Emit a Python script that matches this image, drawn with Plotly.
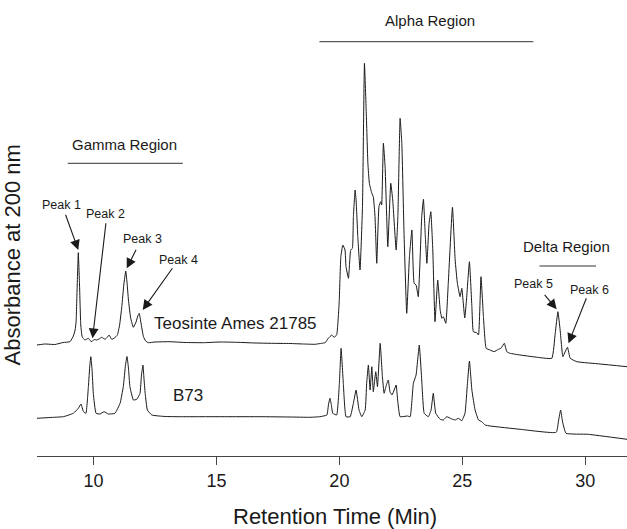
import plotly.graph_objects as go

# Retention time (min) and absorbance (arbitrary units)
teosinte_time = [7.70, 8.03, 8.43, 8.76, 9.04, 9.18, 9.25, 9.29, 9.33, 9.38, 9.43, 9.48, 9.54, 9.65, 9.79, 9.86, 9.93,
                 10.02, 10.13, 10.22, 10.33, 10.47, 10.55, 10.63, 10.74, 10.85, 10.97, 11.06, 11.15, 11.23, 11.31, 11.36,
                 11.42, 11.51, 11.62, 11.73, 11.80, 11.86, 11.93, 12.03, 12.12, 12.23, 12.50, 13.11, 13.72, 14.47, 15.15,
                 15.83, 16.57, 17.18, 17.99, 18.54, 19.01, 19.28, 19.42, 19.55, 19.69, 19.78, 19.89, 19.99, 20.06, 20.14,
                 20.23, 20.27, 20.37, 20.46, 20.53, 20.57, 20.64, 20.68, 20.75, 20.84, 20.94, 21.02, 21.09, 21.16, 21.22,
                 21.32, 21.38, 21.45, 21.52, 21.61, 21.68, 21.72, 21.79, 21.86, 21.97, 22.09, 22.17, 22.31, 22.38, 22.47,
                 22.54, 22.63, 22.74, 22.85, 22.95, 23.04, 23.12, 23.21, 23.35, 23.42, 23.49, 23.56, 23.65, 23.72, 23.80,
                 23.89, 24.00, 24.10, 24.17, 24.23, 24.33, 24.43, 24.60, 24.71, 24.80, 24.91, 24.98, 25.10, 25.17, 25.29,
                 25.39, 25.45, 25.59, 25.66, 25.76, 25.86, 25.97, 26.13, 26.29, 26.47, 26.57, 26.71, 26.81, 26.94, 27.35,
                 27.96, 28.64, 28.78, 28.89, 28.98, 29.09, 29.18, 29.28, 29.39, 29.66, 30.61, 31.70]
teosinte_abs = [111, 112, 111.5, 113.5, 114.3, 120, 126, 134, 166, 203.3, 171, 131, 119, 116, 117.7, 115.5, 114.3,
                116.5, 116, 117, 118.7, 116.7, 118.5, 121, 116.7, 118, 121, 131, 149.3, 171, 185, 174,
                156, 138, 128.7, 134, 140, 142.7, 133, 119.3, 115, 113.3, 114, 114.3, 113.5, 113.3, 114,
                113.7, 113, 112.7, 112.5, 112, 111.7, 112.7, 113.3, 117.7, 121, 118.7, 121, 153, 199.3, 211,
                206, 189.3, 177.7, 206, 207.7, 239.3, 266, 256, 219.3, 186, 249.3, 392.7, 346, 292.7, 272.7,
                262.7, 259.3, 239.3, 192.7, 249.3, 254.3, 251, 312.7, 289.3, 209.3, 272.7, 256, 206, 239.3, 337.7,
                312.7, 222.7, 142.7, 199.3, 226, 172.7, 171, 159.3, 239.3, 256.7, 222.7, 192.7, 232.7, 244.3, 206,
                134.3, 176, 146, 137.7, 139.3, 132.7, 172.7, 248.7, 196, 172.7, 159.3, 167.7, 138, 156, 194.3,
                149.3, 124.3, 123.3, 121, 179.3, 139.3, 107.7, 106, 104.3, 106.7, 107.7, 112.7, 104.3, 102.7, 101,
                99, 97.7, 122.7, 144.3, 126, 99.3, 104, 108.7, 97.7, 94.3, 92, 89.3]

b73_time = [7.70, 8.23, 8.77, 9.18, 9.38, 9.49, 9.59, 9.69, 9.79, 9.85, 9.89, 9.94, 9.99, 10.10, 10.26, 10.43, 10.60,
            10.87, 11.08, 11.21, 11.30, 11.36, 11.42, 11.48, 11.62, 11.76, 11.89, 11.95, 12.01, 12.05, 12.10, 12.19,
            12.37, 12.91, 13.52, 14.33, 15.55, 16.77, 17.99, 18.81, 19.21, 19.49, 19.56, 19.62, 19.68, 19.73, 19.89,
            20.00, 20.07, 20.16, 20.27, 20.44, 20.57, 20.68, 20.80, 20.91, 21.05, 21.11, 21.18, 21.25, 21.32, 21.38,
            21.48, 21.55, 21.66, 21.75, 21.82, 21.90, 21.99, 22.06, 22.14, 22.23, 22.31, 22.37, 22.47, 22.77, 22.88,
            23.01, 23.12, 23.25, 23.35, 23.45, 23.62, 23.73, 23.82, 23.92, 24.10, 24.23, 24.37, 24.57, 24.71, 24.84,
            24.98, 25.11, 25.21, 25.29, 25.39, 25.52, 25.66, 25.79, 25.93, 26.13, 27.35, 28.82, 28.92, 29.00, 29.08,
            29.22, 30.12, 31.70]
b73_abs = [37.7, 38.5, 39.3, 42.7, 47.7, 52, 44.3, 42.7, 69.3, 91, 99.3, 86, 62.7, 42.7, 42, 44.3, 42,
           42.7, 52.7, 69.3, 91, 99.5, 88, 69.3, 56, 56.7, 62.7, 81, 91, 78, 62.7, 46,
           41, 39.5, 39.3, 39.3, 39.3, 39.3, 39, 38.7, 39.3, 41, 52, 57.7, 50, 42.7, 41,
           72.7, 107.7, 72.7, 39.3, 39.3, 52.7, 66, 46, 39.3, 46, 72.7, 91, 66, 89.3, 64.3,
           84.3, 69.3, 112.7, 79.3, 62.7, 70, 76, 64, 61, 66, 71, 56, 39.3, 40, 39.3,
           72.7, 81, 111, 76, 42.7, 39.3, 46, 62.7, 42.7, 36.7, 36, 39.3, 37, 36, 37.7,
           35.3, 42.7, 72.7, 95, 66, 46, 36, 34.3, 31, 30, 26.7, 23.7, 36, 46, 34,
           22.7, 21.7, 16.7]

x_ticks = [10, 15, 20, 25, 30]

region_names = ["Gamma Region", "Alpha Region", "Delta Region"]
region_start = [8.95, 19.19, 28.14]
region_end = [13.63, 27.89, 30.44]
region_line_level = [292.7, 414.3, 190]
region_label_x = [11.25, 23.69, 29.25]
region_label_y = [312, 435.3, 209.3]

peak_labels = ["Peak 1", "Peak 2", "Peak 3", "Peak 4", "Peak 5", "Peak 6"]
peak_label_x = [8.71, 10.47, 12.00, 13.45, 27.89, 30.16]
peak_label_y = [251, 242, 216.7, 196, 171.7, 166]
arrow_tail_x = [8.84, 10.51, 11.76, 13.25, 28.30, 30.07]
arrow_tail_y = [242.7, 234.3, 207.7, 189.3, 162.7, 159.3]
arrow_head_x = [9.38, 9.96, 11.35, 12.00, 28.84, 29.32]
arrow_head_y = [206, 117.7, 187.7, 146, 146.7, 112.7]

sample_names = ["Teosinte Ames 21785", "B73"]
sample_label_x = [12.37, 13.15]
sample_label_y = [132.7, 61]

FONT = "Liberation Sans, Arial, Helvetica, sans-serif"
INK = "#1a1a1a"

fig = go.Figure()
fig.add_trace(go.Scatter(x=teosinte_time, y=teosinte_abs, mode="lines",
                         line=dict(color=INK, width=1, shape="spline", smoothing=0.35),
                         name=sample_names[0], hoverinfo="skip"))
fig.add_trace(go.Scatter(x=b73_time, y=b73_abs, mode="lines",
                         line=dict(color=INK, width=1, shape="spline", smoothing=0.35),
                         name=sample_names[1], hoverinfo="skip"))

shapes = []
annotations = []
for name, x0, x1, yl, lx, ly in zip(region_names, region_start, region_end, region_line_level,
                                    region_label_x, region_label_y):
    shapes.append(dict(type="line", xref="x", yref="y", x0=x0, x1=x1, y0=yl, y1=yl,
                       line=dict(color="#333333", width=1)))
    annotations.append(dict(x=lx, y=ly, xref="x", yref="y", text=name, showarrow=False,
                            font=dict(size=15, color=INK, family=FONT)))

for lab, lx, ly, tx, ty, hx, hy in zip(peak_labels, peak_label_x, peak_label_y, arrow_tail_x,
                                       arrow_tail_y, arrow_head_x, arrow_head_y):
    annotations.append(dict(x=lx, y=ly, xref="x", yref="y", text=lab, showarrow=False,
                            font=dict(size=12.5, color=INK, family=FONT)))
    annotations.append(dict(x=hx, y=hy, xref="x", yref="y", ax=tx, ay=ty, axref="x", ayref="y",
                            text="", showarrow=True, arrowhead=2, arrowsize=1.8, arrowwidth=1.1,
                            arrowcolor=INK, standoff=0, startstandoff=0))

for name, sx, sy in zip(sample_names, sample_label_x, sample_label_y):
    annotations.append(dict(x=sx, y=sy, xref="x", yref="y", text=name, showarrow=False,
                            xanchor="left", font=dict(size=17, color=INK, family=FONT)))

annotations.append(dict(x=0.505, y=-0.133, xref="paper", yref="paper", text="Retention Time (Min)",
                        showarrow=False, yanchor="middle", font=dict(size=22, color=INK, family=FONT)))
annotations.append(dict(x=-0.0424, y=0.442, xref="paper", yref="paper", text="Absorbance at 200 nm",
                        showarrow=False, textangle=-90, xanchor="center", yanchor="middle",
                        font=dict(size=22, color=INK, family=FONT)))

fig.update_layout(
    width=627, height=529,
    margin=dict(l=37, r=0, t=0, b=73),
    paper_bgcolor="white", plot_bgcolor="white",
    showlegend=False,
    shapes=shapes, annotations=annotations,
    font=dict(family=FONT, color=INK),
    xaxis=dict(range=[7.7, 31.7], tickvals=x_ticks, ticktext=[str(v) for v in x_ticks],
               showline=True, linecolor="#444444", linewidth=1, ticks="outside", ticklen=8,
               tickcolor="#444444", showgrid=False, zeroline=False,
               tickfont=dict(size=18, color=INK, family=FONT)),
    yaxis=dict(range=[0, 456], visible=False, showgrid=False, zeroline=False),
)

fig.write_html("out.html", config={"displayModeBar": False},
               post_script="document.body.style.margin='0';document.body.style.overflow='hidden';")
